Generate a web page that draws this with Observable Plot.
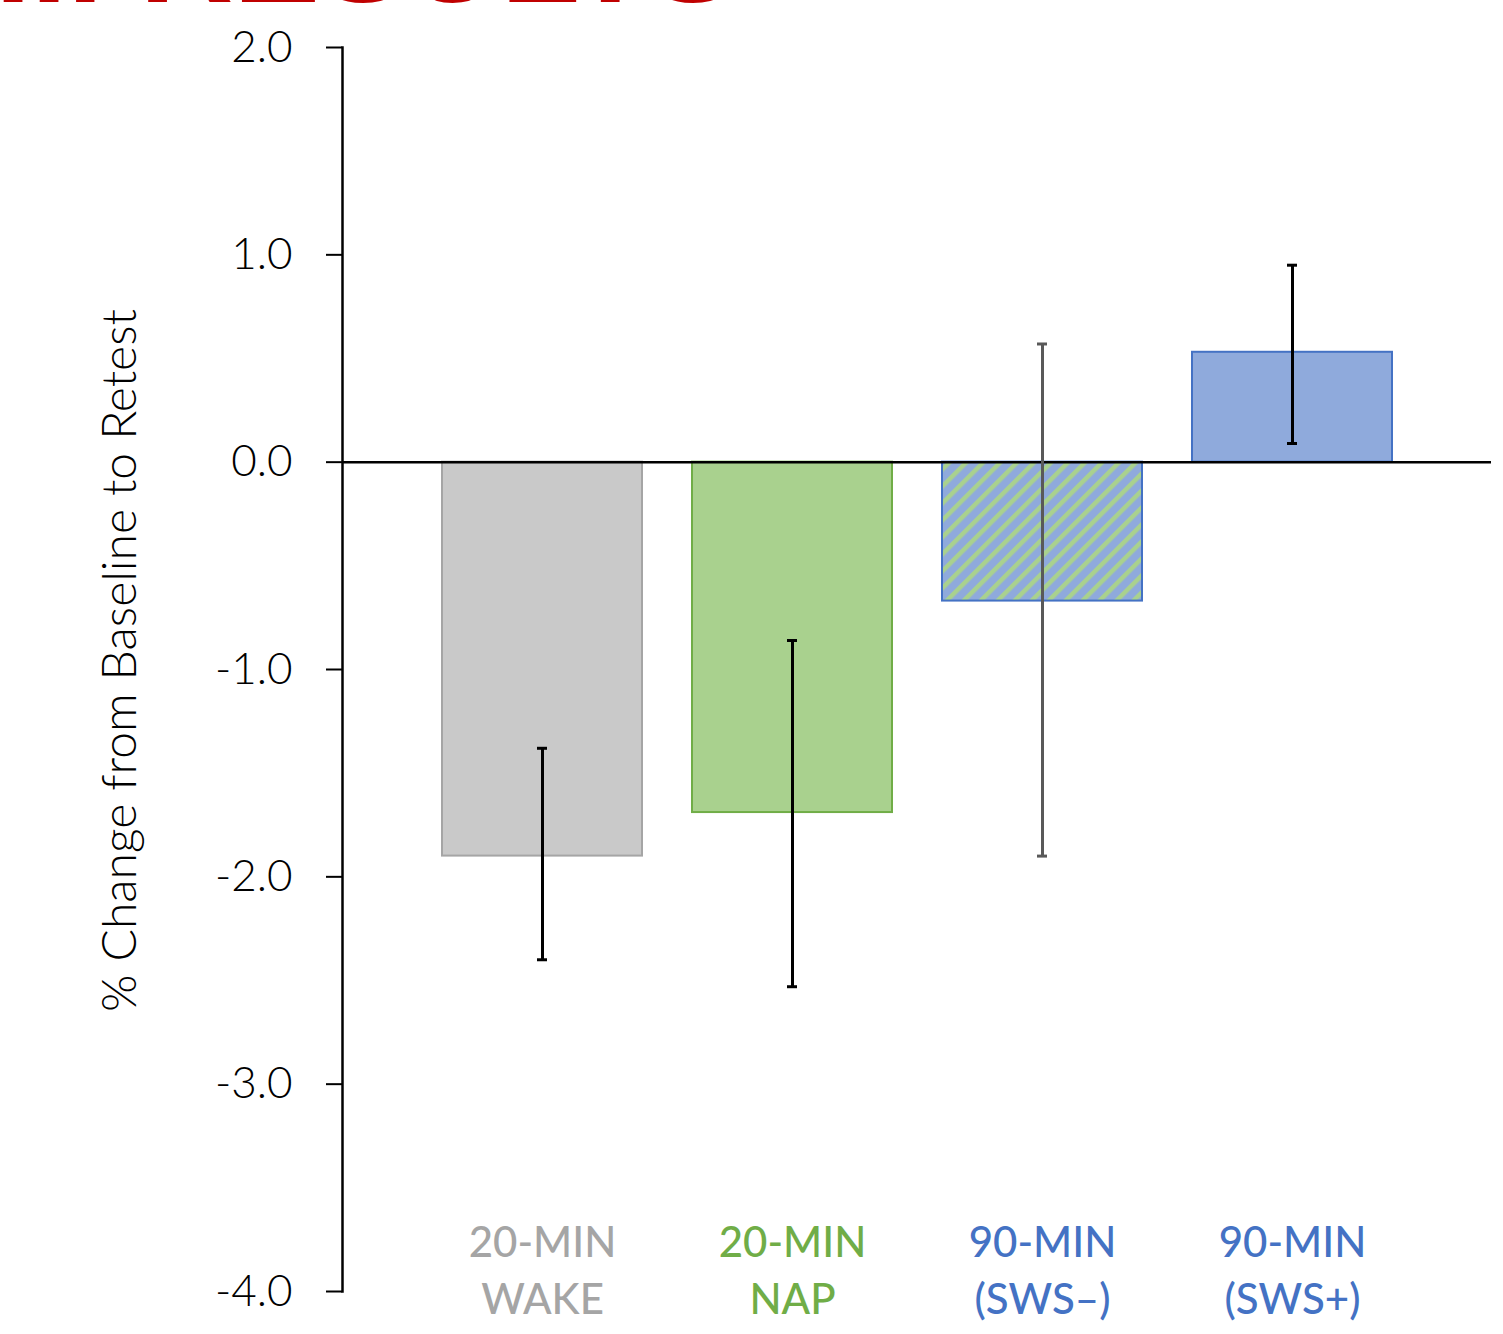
<!DOCTYPE html>
<html>
<head>
<meta charset="utf-8">
<script src="https://cdn.jsdelivr.net/npm/d3@7"></script>
<script src="https://cdn.jsdelivr.net/npm/@observablehq/plot@0.6"></script>
<style>
  html, body { margin: 0; padding: 0; background: #fff; overflow: hidden; }
  #wrap { position: relative; width: 1503px; height: 1334px; }
  #titlebox { position: absolute; left: 0; top: 0; width: 800px; height: 5px; overflow: hidden; }
  #title { position: absolute; left: -5px; top: -108px; font-family: "Liberation Sans", sans-serif; font-weight: bold; font-size: 130px; line-height: 130px; color: #c00000; white-space: nowrap; }
  svg { display: block; }
</style>
</head>
<body>
<div id="wrap">
  <div id="chart"></div>
  <div id="titlebox"><div id="title">II. RESULTS</div></div>
</div>
<script>
const categories = ["20-MIN\nWAKE", "20-MIN\nNAP", "90-MIN\n(SWS–)", "90-MIN\n(SWS+)"];
const means = [-1.90, -1.69, -0.67, 0.53];
const errLow = [-2.40, -2.53, -1.90, 0.09];
const errHigh = [-1.38, -0.86, 0.57, 0.95];
const fills = ["#c9c9c9", "#a9d18e", "url(#stripes)", "#8faadc"];
const strokes = ["#a5a5a5", "#70ad47", "#4472c4", "#4472c4"];
const labelColors = ["#a5a5a5", "#70ad47", "#4472c4", "#4472c4"];
const errColors = ["#000000", "#000000", "#595959", "#000000"];
const yTicks = [-4, -3, -2, -1, 0, 1, 2];
const yLabel = "% Change from Baseline to Retest";

const data = categories.map((c, i) => ({
  cat: c, mean: means[i], lo: errLow[i], hi: errHigh[i],
  fill: fills[i], stroke: strokes[i], labelColor: labelColors[i], errColor: errColors[i]
}));

const chart = Plot.plot({
  width: 1503,
  height: 1334,
  marginLeft: 342,
  marginRight: 12,
  marginTop: 47,
  marginBottom: 43,
  style: { fontFamily: "Lato, sans-serif", background: "#fff" },
  x: { domain: categories, paddingInner: 0.2, paddingOuter: 0.398, axis: null },
  y: { domain: [-4, 2] },
  marks: [
    Plot.barY(data, { x: "cat", y: "mean", fill: d => d.fill, stroke: d => d.stroke, strokeWidth: 2 }),
    Plot.ruleY([0], { stroke: "#000", strokeWidth: 2.5 }),
    Plot.ruleX(data, { x: "cat", y1: "lo", y2: "hi", stroke: d => d.errColor, strokeWidth: 3 }),
    Plot.tickY(data, { x: "cat", y: "lo", stroke: d => d.errColor, strokeWidth: 3, insetLeft: 95, insetRight: 95 }),
    Plot.tickY(data, { x: "cat", y: "hi", stroke: d => d.errColor, strokeWidth: 3, insetLeft: 95, insetRight: 95 }),
    Plot.axisY({ ticks: yTicks, tickFormat: d => d.toFixed(1), tickSize: 16, tickPadding: 34, fontSize: 44, fontWeight: 300, label: null, stroke: "#000", strokeWidth: 2, color: "#000" }),
    Plot.frame({ anchor: "left", stroke: "#000", strokeWidth: 2.5 }),
    Plot.text(data, { x: "cat", text: "cat", frameAnchor: "bottom", lineAnchor: "middle", lineHeight: 1.35, dy: -24, fontSize: 42, fontWeight: 500, fill: d => d.labelColor }),
    Plot.text([yLabel], { frameAnchor: "left", textAnchor: "middle", rotate: -90, dx: -222, dy: -9, fontSize: 48, fontWeight: 300, fill: "#000" })
  ]
});

const svg = d3.select(chart);
const defs = svg.insert("defs", ":first-child");
const pat = defs.append("pattern")
  .attr("id", "stripes")
  .attr("patternUnits", "userSpaceOnUse")
  .attr("width", 12).attr("height", 12)
  .attr("patternTransform", "rotate(45)");
pat.append("rect").attr("width", 12).attr("height", 12).attr("fill", "#8faadc");
pat.append("rect").attr("width", 4.5).attr("height", 12).attr("fill", "#a9d18e");

document.getElementById("chart").appendChild(chart);
</script>
</body>
</html>
